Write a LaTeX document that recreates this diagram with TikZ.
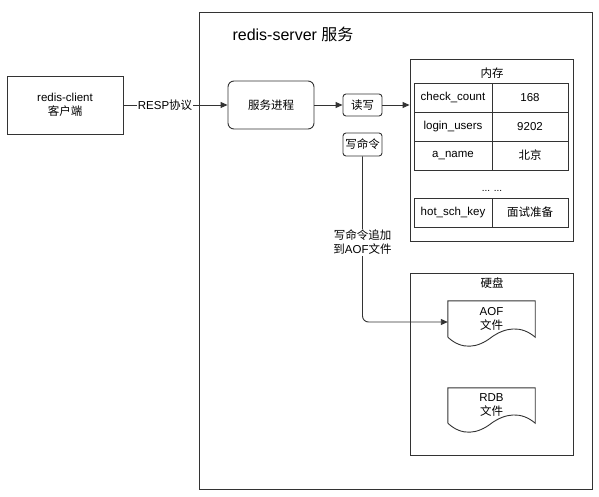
\documentclass[tikz,border=0pt]{standalone}
\usepackage{fontspec}
\setmainfont{Liberation Sans}
\newfontfamily\cjk{Noto Sans CJK SC}
\usetikzlibrary{arrows.meta,positioning,calc}
\newcommand{\zh}[1]{{\cjk #1}}
\newcommand{\docoutline}[1]{%
  \draw[line] (#1.south west) -- (#1.north west) -- (#1.north east) -- (#1.south east)
    .. controls ($(#1.south east)+(-14,-12)$) and ($(#1.south)+(14,-10)$) .. (#1.south)
    .. controls ($(#1.south)+(-14,11)$) and ($(#1.south west)+(14,13)$) .. (#1.south west);}
\tikzset{
	x=1pt, y=-1pt,
	line/.style={draw=black!80, line width=0.9pt},
	%
	box/.style={
		rectangle, line, align=center, font=\fontsize{11.5}{14}\selectfont
	},
	%
	procbox/.style={box, rounded corners=6pt},
	%
	tagbox/.style={box, rounded corners=3pt, minimum width=39pt, minimum height=22pt, inner sep=1pt},
	%
	frame/.style={rectangle, line, minimum width=163pt, minimum height=182pt},
	%
	cellbox/.style={
		rectangle, line, minimum height=29pt, inner sep=0pt, outer sep=0pt,
		font=\fontsize{11.5}{14}\selectfont
	},
	keycell/.style={cellbox, minimum width=78pt},
	valcell/.style={cellbox, minimum width=76pt},
	%
	docbox/.style={
		rectangle, minimum width=87pt, minimum height=36pt, inner sep=0pt,
		align=center, font=\fontsize{11.5}{14}\selectfont
	},
	%
	flow/.style={line, -{Triangle[length=7pt,width=6pt]}},
	lbl/.style={fill=white, inner sep=1pt, align=center, font=\fontsize{11.5}{14}\selectfont}
}

\begin{document}
\begin{tikzpicture}
\useasboundingbox (0,0) rectangle (599,497);

%server frame
\draw[line] (199,12) rectangle (592,489);
\node (title) [anchor=west, font=\fontsize{16}{18}\selectfont] at (229,34) {redis-server \zh{服务}};

%client and process
\node (client) [box, minimum width=116pt, minimum height=58pt] at (65,105) {redis-client\\\zh{客户端}};
\node (proc) [procbox, minimum width=86pt, minimum height=48pt] at (271,105) {\zh{服务进程}};
\node (rw) [tagbox] at (362.5,105) {\zh{读写}};
\node (wcmd) [tagbox, minimum height=23pt] at (362.5,144.5) {\zh{写命令}};

%memory
\node (mem) [frame] at (491.5,150) {};
\node (memtitle) [font=\fontsize{11.5}{14}\selectfont] at (492,73) {\zh{内存}};
\node (k1) [keycell] at (453,97.5) {check\_count};
\node (v1) [valcell, right=0pt of k1] {168};
\node (k2) [keycell, below=0pt of k1] {login\_users};
\node (v2) [valcell, right=0pt of k2] {9202};
\node (k3) [keycell, below=0pt of k2] {a\_name};
\node (v3) [valcell, right=0pt of k3] {\zh{北京}};
\node (dots) [font=\fontsize{10}{12}\selectfont] at (492,191) {... ...};
\node (k4) [keycell] at (453,212.5) {hot\_sch\_key};
\node (v4) [valcell, right=0pt of k4] {\zh{面试准备}};

%disk
\node (disk) [frame] at (491.5,364) {};
\node (disktitle) [font=\fontsize{11.5}{14}\selectfont] at (492,283) {\zh{硬盘}};
\node (aof) [docbox] at (491.5,319) {AOF\\\zh{文件}};
\node (rdb) [docbox, minimum height=35pt] at (491.5,405.5) {RDB\\\zh{文件}};
\docoutline{aof}
\docoutline{rdb}

%arrows
\draw[flow] (client) to node[lbl, pos=0.4] {RESP\zh{协议}} (proc);
\draw[flow] (proc) to (rw);
\draw[flow] (rw) to (rw -| mem.west);
\draw[flow, rounded corners=6pt] (wcmd.south) |- node[lbl, pos=0.26] {\zh{写命令追加}\\\zh{到}AOF\zh{文件}} ($(aof.west)+(0,3)$);

\end{tikzpicture}
\end{document}
